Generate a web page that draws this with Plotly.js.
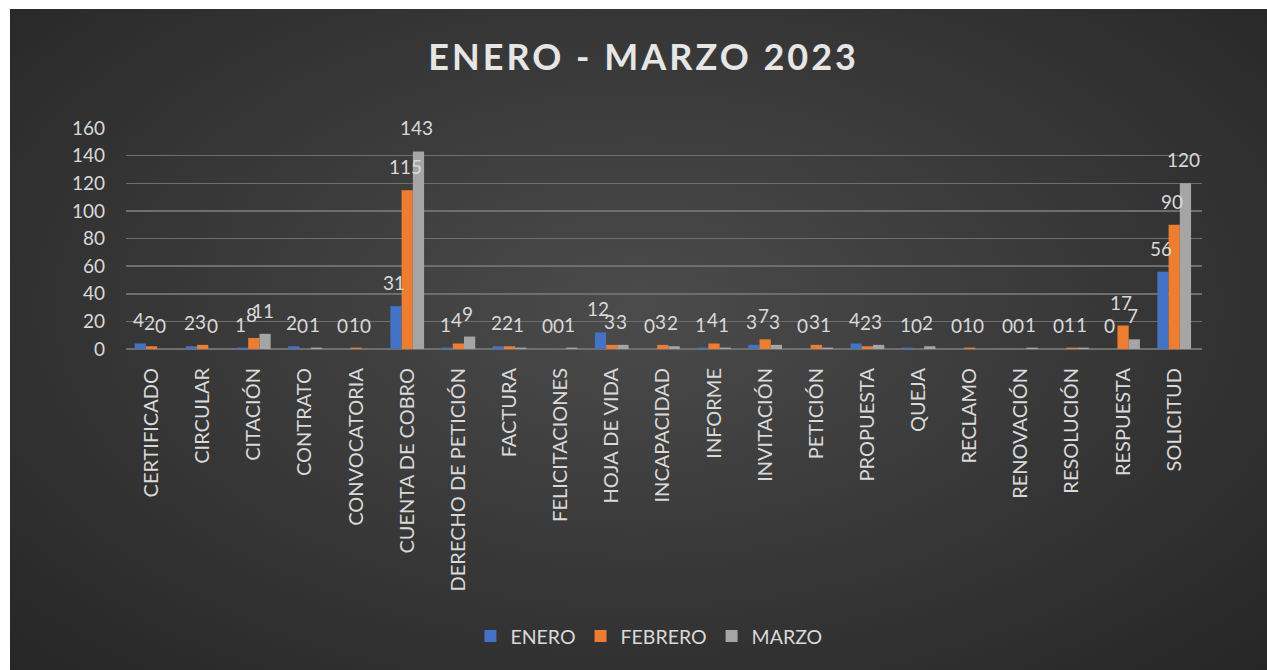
<!DOCTYPE html>
<html>
<head>
<meta charset="utf-8">
<script src="https://cdn.plot.ly/plotly-3.0.1.min.js"></script>
<style>
    html, body { margin: 0; padding: 0; background: #ffffff; }
    #frame {
        position: absolute; left: 10px; top: 9px; width: 1257px; height: 661px;
        background: radial-gradient(ellipse at 50% 45%, #4b4b4b 0%, #3a3a3a 45%, #262626 100%);
    }
    #chart { position: absolute; left: -10px; top: -9px; width: 1267px; height: 670px; }
    /* spaced-out title like the original */
    #chart .gtitle { letter-spacing: 3px; }
</style>
</head>
<body>
<div id="frame"><div id="chart"></div></div>
<script>
const categories = ['CERTIFICADO', 'CIRCULAR', 'CITACIÓN', 'CONTRATO', 'CONVOCATORIA', 'CUENTA DE COBRO',
    'DERECHO DE PETICIÓN', 'FACTURA', 'FELICITACIONES', 'HOJA DE VIDA', 'INCAPACIDAD', 'INFORME',
    'INVITACIÓN', 'PETICIÓN', 'PROPUESTA', 'QUEJA', 'RECLAMO', 'RENOVACIÓN', 'RESOLUCIÓN',
    'RESPUESTA', 'SOLICITUD'];
const enero   = [4, 2, 1, 2, 0, 31, 1, 2, 0, 12, 0, 1, 3, 0, 4, 1, 0, 0, 0, 0, 56];
const febrero = [2, 3, 8, 0, 1, 115, 4, 2, 0, 3, 3, 4, 7, 3, 2, 0, 1, 0, 1, 17, 90];
const marzo   = [0, 0, 11, 1, 0, 143, 9, 1, 1, 3, 2, 1, 3, 1, 3, 2, 0, 1, 1, 7, 120];
const seriesNames = ['ENERO', 'FEBRERO', 'MARZO'];
const seriesColors = ['#4472c4', '#ed7d31', '#a5a5a5'];

const textColor = '#d9d9d9';
const fontFamily = 'Lato, "Open Sans", sans-serif';
const seriesData = [enero, febrero, marzo];

const traces = seriesData.map((vals, i) => ({
    type: 'bar',
    name: seriesNames[i],
    x: categories,
    y: vals,
    marker: { color: seriesColors[i] },
    hoverinfo: 'x+y+name'
}));

// value labels as annotations so they sit on top of the neighbouring bars
const barPx = 11.3;
const labels = [];
seriesData.forEach((vals, i) => {
    vals.forEach((v, j) => {
        labels.push({
            x: categories[j], y: v, xref: 'x', yref: 'y',
            text: String(v), showarrow: false,
            xanchor: 'center', yanchor: 'bottom',
            xshift: (i - 1) * barPx - 2, yshift: 10,
            font: { family: fontFamily, size: 19, color: textColor }
        });
    });
});

const layout = {
    width: 1267,
    height: 670,
    paper_bgcolor: 'rgba(0,0,0,0)',
    plot_bgcolor: 'rgba(0,0,0,0)',
    margin: { l: 126, r: 65, t: 128, b: 321 },
    font: { family: fontFamily, color: textColor },
    title: {
        text: '<b>ENERO - MARZO 2023</b>',
        font: { family: fontFamily, size: 36, color: '#e6e6e6' },
        x: 0.508, xanchor: 'center',
        y: 0.915, yanchor: 'middle'
    },
    barmode: 'group',
    bargap: 0.34,
    bargroupgap: 0,
    annotations: labels,
    xaxis: {
        type: 'category',
        tickangle: -90,
        tickfont: { family: fontFamily, size: 20, color: textColor },
        ticks: '',
        ticklabelstandoff: 14,
        showgrid: false,
        showline: false,
        zeroline: false
    },
    yaxis: {
        range: [0, 160],
        dtick: 20,
        tickfont: { family: fontFamily, size: 19, color: textColor },
        ticks: '',
        ticklabelstandoff: 20,
        gridcolor: '#6e6e6e',
        gridwidth: 1.5,
        zeroline: true,
        zerolinecolor: '#6e6e6e',
        zerolinewidth: 1.5,
        showline: false
    },
    showlegend: true,
    legend: {
        orientation: 'h',
        x: 0.486, xanchor: 'center',
        y: -1.30, yanchor: 'middle',
        font: { family: fontFamily, size: 19.5, color: textColor },
        itemwidth: 30,
        traceorder: 'normal'
    }
};

Plotly.newPlot('chart', traces, layout, { displayModeBar: false, staticPlot: true });
</script>
</body>
</html>
